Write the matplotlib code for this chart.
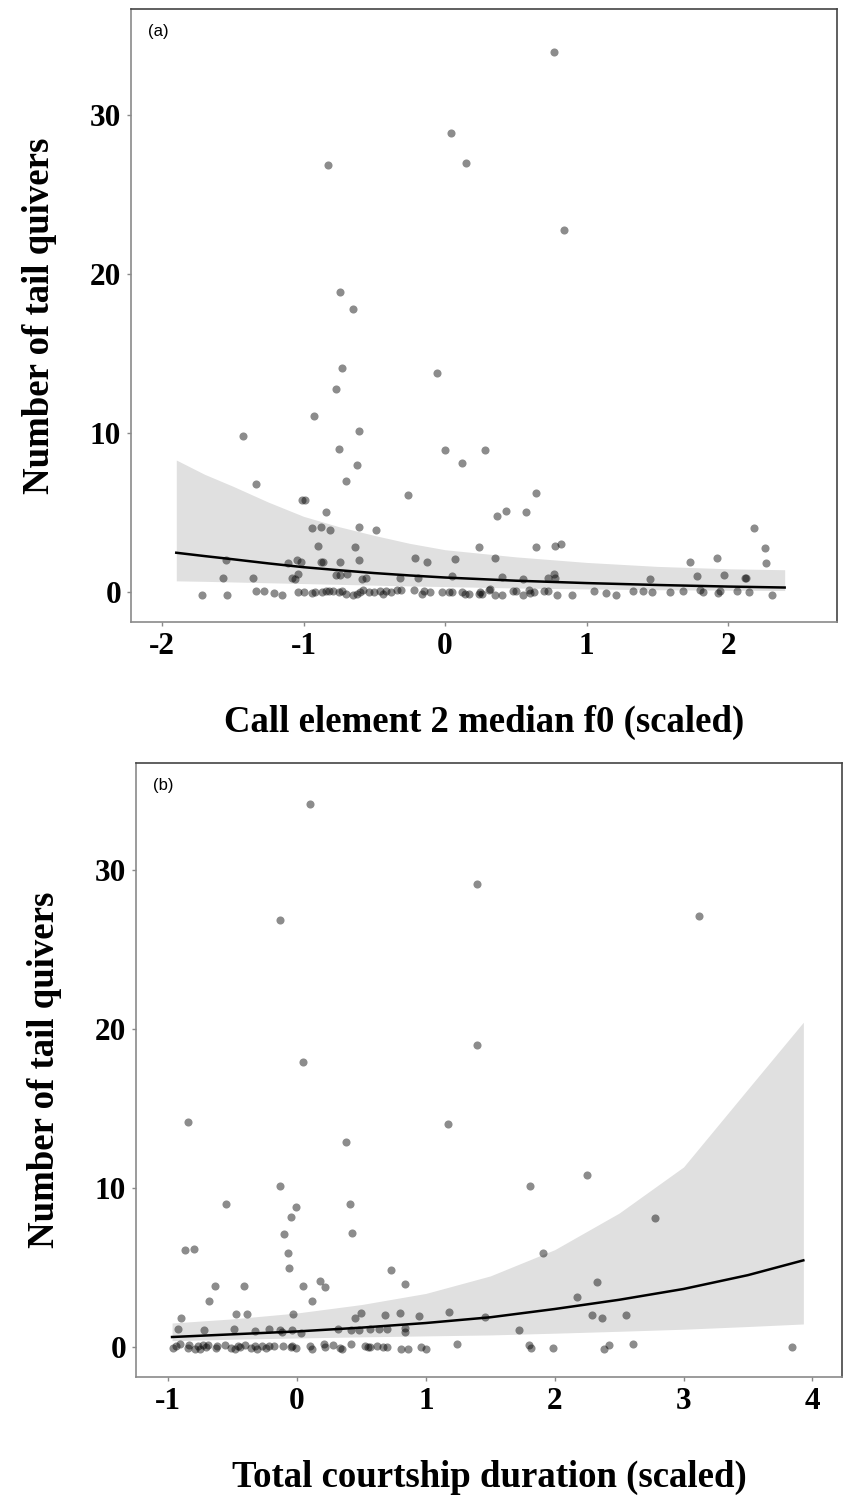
import numpy as np
import matplotlib.pyplot as plt

# ------------------------------------------------------------
# Panel (a): call element 2 median f0 (scaled)
# ------------------------------------------------------------

a_x = [-0.83, 0.04, 0.15, -0.74, -0.65, 0.77, 0.84,
       -0.73, -0.06, -0.77, -0.93, -1.43, -0.61, -0.75, 0.00, 0.28,
       -0.62, 0.12, -0.70, -1.34, -0.26, -1.01, -0.99, -0.84, -0.94,
       -0.88, -0.81, -0.61, -0.49, -0.90, -0.64, 0.24, -1.05, -1.02,
       -0.88, -0.86, -0.74, -0.61, -1.55, -1.11, -0.21, -0.13, 0.07,
       -1.57, -1.36, -1.08, -1.06, -1.04, -0.77, -0.74, -0.69, -0.59,
       -0.56, -0.32, -0.19, 0.05,
       0.64, 0.37, 0.43, 0.57, 2.18, 0.64, 0.78, 0.82, 2.26, 0.35,
       1.73, 1.92, 2.27, 0.40, 0.55, 0.73, 0.77, 0.78, 1.45, 1.78,
       1.97, 2.12, 2.13,
       # zero counts
       -1.72, -1.54, -1.34, -1.28, -1.21, -1.15, -1.04, -1.00, -0.94,
       -0.92, -0.87, -0.84, -0.82, -0.79, -0.75, -0.73, -0.70, -0.65,
       -0.62, -0.60, -0.58, -0.54, -0.50, -0.46, -0.44, -0.42, -0.38,
       -0.34, -0.31, -0.22, -0.16, -0.15, -0.11, -0.02, 0.03, 0.05,
       0.12, 0.14, 0.17, 0.24, 0.25, 0.31,
       0.26, 0.32, 0.35, 0.40, 0.48, 0.50, 0.55, 0.59, 0.60, 0.63,
       0.70, 0.73, 0.79, 0.90, 1.05, 1.14, 1.21, 1.33, 1.40, 1.46,
       1.59, 1.68, 1.80, 1.82, 1.93, 1.94, 2.06, 2.15, 2.31]
a_y = [26.9, 28.9, 27.0, 18.9, 17.8, 34.0, 22.8,
       14.1, 13.8, 12.8, 11.1, 9.8, 10.1, 9.0, 8.9, 8.9,
       8.0, 8.1, 7.0, 6.8, 6.1, 5.8, 5.8, 5.0, 4.0,
       4.05, 3.9, 4.1, 3.9, 2.9, 2.8, 2.8, 2.0, 1.85,
       1.9, 1.9, 1.9, 2.0, 2.0, 1.8, 2.1, 1.9, 2.06,
       0.84, 0.9, 0.9, 0.8, 1.1, 1.07, 1.07, 1.1, 0.8,
       0.9, 0.86, 0.86, 0.97,
       6.2, 4.8, 5.1, 5.0, 4.0, 2.8, 2.9, 3.0, 2.75, 2.1,
       1.85, 2.1, 1.83, 0.95, 0.8, 0.84, 1.09, 0.84, 0.8, 0.99,
       1.03, 0.86, 0.84,
       -0.21, -0.21, 0.06, 0.06, -0.10, -0.23, 0.00, -0.04, -0.10,
       -0.04, -0.04, 0.08, 0.02, 0.08, -0.04, 0.02, -0.14, -0.19,
       -0.12, -0.04, 0.10, 0.00, -0.04, 0.06, -0.12, 0.08, -0.04,
       0.13, 0.13, 0.11, -0.12, 0.06, -0.04, -0.04, -0.04, -0.04,
       -0.04, -0.12, -0.16, -0.14, -0.04, 0.13,
       -0.13, 0.17, -0.19, -0.23, 0.02, 0.06, -0.23, 0.11, -0.10, -0.01,
       0.08, 0.08, -0.19, -0.23, 0.04, -0.08, -0.19, 0.02, 0.04, -0.01,
       -0.04, 0.02, 0.11, -0.04, -0.08, 0.04, 0.08, -0.04, -0.19]

a_fit_x = [-1.90, -1.70, -1.50, -1.25, -1.00, -0.75, -0.50, -0.25, 0.00,
           0.50, 1.00, 1.50, 2.00, 2.40]
a_fit = [2.46, 2.25, 2.05, 1.79, 1.55, 1.36, 1.18, 1.03, 0.90,
         0.70, 0.55, 0.43, 0.33, 0.27]
a_upper = [8.3, 7.4, 6.65, 5.65, 4.75, 4.10, 3.55, 3.05, 2.65,
           2.20, 1.85, 1.60, 1.45, 1.39]
a_lower = [0.69, 0.66, 0.62, 0.57, 0.52, 0.47, 0.42, 0.37, 0.33,
           0.24, 0.18, 0.13, 0.10, 0.08]

# ------------------------------------------------------------
# Panel (b): total courtship duration (scaled)
# ------------------------------------------------------------

b_x = [0.10, 1.40, -0.13, 1.40, 0.05, 3.12,
       -0.85, 1.17, 0.38, -0.13, -0.55, 0.41, -0.01, -0.05, -0.10, 0.43,
       -0.87, -0.80, -0.07, -0.06, 0.73, 0.18, 0.22, -0.64, -0.41, 0.05,
       0.84, -0.68, 0.12, -0.90, -0.47, -0.39, -0.03, 0.50, 0.45, 0.68,
       0.80, 0.95, 1.18, 1.46, -0.92, -0.72, -0.49, -0.33, -0.22, -0.13,
       -0.12, -0.04, 0.03, 0.32, 0.42, 0.48, 0.57, 0.64, 0.70, 0.84,
       0.84, 1.24,
       1.81, 2.25, 2.78, 1.91, 2.33, 2.17, 2.29, 2.37, 2.55, 1.72,
       1.80, 1.82, 1.99, 2.38, 2.42, 2.61, 3.84,
       # zero counts
       -0.96, -0.94, -0.91, -0.85, -0.84, -0.79, -0.77, -0.75, -0.73,
       -0.71, -0.69, -0.63, -0.62, -0.56, -0.51, -0.48, -0.46, -0.44,
       -0.40, -0.36, -0.33, -0.31, -0.27, -0.24, -0.22, -0.18, -0.11,
       -0.05, -0.04, -0.01, 0.10, 0.12, 0.21, 0.22, 0.28, 0.33, 0.35,
       0.42, 0.53, 0.55, 0.57, 0.62, 0.67, 0.70, 0.81, 0.86, 0.96, 1.00]
b_y = [34.1, 29.1, 26.8, 18.95, 17.9, 27.1,
       14.1, 13.98, 12.9, 10.1, 8.95, 8.97, 8.8, 8.15, 7.1, 7.15,
       6.06, 6.14, 5.9, 4.97, 4.84, 4.15, 3.77, 3.8, 3.8, 3.8,
       3.96, 2.87, 2.89, 1.78, 2.08, 2.06, 2.08, 2.14, 1.78, 1.99,
       2.12, 1.95, 2.16, 1.89, 1.09, 1.03, 1.13, 1.0, 1.09, 1.03,
       0.95, 1.03, 0.86, 1.13, 1.03, 1.03, 1.09, 1.11, 1.13, 1.15,
       0.9, 0.17,
       10.1, 10.8, 8.09, 5.87, 4.07, 3.1, 1.99, 1.82, 1.97, 1.07,
       0.10, -0.06, -0.08, -0.13, 0.08, 0.17, -0.02,
       -0.10, 0.05, 0.15, -0.05, 0.12, -0.12, 0.02, -0.15, 0.08,
       -0.02, 0.10, -0.08, 0.05, 0.13, -0.05, -0.12, 0.06, -0.02,
       0.08, -0.10, 0.04, -0.14, 0.02, -0.10, 0.05, 0.06, 0.03,
       -0.04, 0.02, -0.08, 0.05, -0.13, 0.18, -0.02, 0.10, -0.06, -0.12,
       0.16, 0.03, 0.00, -0.02, 0.02, 0.00, 0.00, -0.12, -0.14, -0.04, -0.13]

b_fit_x = [-0.97, -0.50, 0.00, 0.50, 1.00, 1.50, 2.00, 2.50, 3.00, 3.50, 3.93]
b_fit = [0.61, 0.78, 0.96, 1.20, 1.49, 1.85, 2.37, 2.95, 3.63, 4.50, 5.43]
b_upper = [1.49, 1.75, 2.12, 2.65, 3.35, 4.45, 6.10, 8.40, 11.3, 16.2, 20.4]
b_lower = [0.38, 0.47, 0.55, 0.62, 0.68, 0.74, 0.85, 0.97, 1.10, 1.27, 1.43]

serif = ["Liberation Serif", "DejaVu Serif"]

fig = plt.figure(figsize=(8.43, 15.06), dpi=100)


def draw_panel(rect, xs, ys, fx, fy, lo, hi, xlim, xticks, xlabel, tag):
    ax = fig.add_axes(rect)
    ax.fill_between(fx, lo, hi, color="#e0e0e0", linewidth=0, zorder=1)
    ax.plot(fx, fy, color="black", linewidth=1.8, zorder=2)
    ax.scatter(xs, ys, s=34, color="black", alpha=0.45, linewidths=0, zorder=3)
    ax.set_xlim(*xlim)
    ax.set_ylim(-1.9, 36.7)
    ax.set_xticks(xticks)
    ax.set_xticklabels([str(t) for t in xticks])
    ax.set_yticks([0, 10, 20, 30])
    for side in ["left", "bottom"]:
        ax.spines[side].set_color("#8a8a8a")
        ax.spines[side].set_linewidth(1.2)
    for side in ["top", "right"]:
        ax.spines[side].set_color("#444444")
        ax.spines[side].set_linewidth(1.2)
    ax.tick_params(length=3, width=1, color="#8a8a8a", pad=4)
    for lab in ax.get_xticklabels() + ax.get_yticklabels():
        lab.set_family(serif)
        lab.set_fontweight("bold")
        lab.set_fontsize(22.5)
    ax.set_xlabel(xlabel, family=serif, fontweight="bold", fontsize=26.5, labelpad=32)
    ax.set_ylabel("Number of tail quivers", family=serif, fontweight="bold",
                  fontsize=26.5, labelpad=24)
    ax.text(0.024, 0.975, tag, transform=ax.transAxes, fontsize=12,
            family="Liberation Sans", va="top", ha="left")
    return ax


draw_panel([0.1554, 0.587, 0.8375, 0.407], a_x, a_y, a_fit_x, a_fit, a_lower, a_upper,
           (-2.22, 2.77), [-2, -1, 0, 1, 2], "Call element 2 median f0 (scaled)", "(a)")
draw_panel([0.1613, 0.0857, 0.8375, 0.4077], b_x, b_y, b_fit_x, b_fit, b_lower, b_upper,
           (-1.25, 4.23), [-1, 0, 1, 2, 3, 4], "Total courtship duration (scaled)", "(b)")

fig.savefig("out.png", dpi=100)
